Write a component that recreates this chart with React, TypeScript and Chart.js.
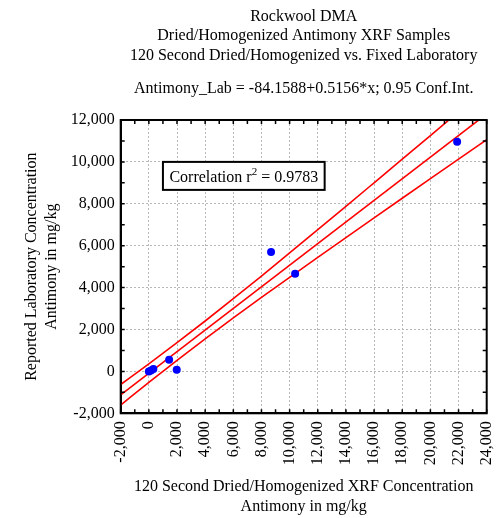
import React, { useEffect, useRef } from "react";
import { Chart, registerables } from "chart.js";

Chart.register(...registerables);

// ---------- text ----------
const titleLines = [
  "Rockwool DMA",
  "Dried/Homogenized Antimony XRF Samples",
  "120 Second Dried/Homogenized vs. Fixed Laboratory",
];
const equationText = "Antimony_Lab = -84.1588+0.5156*x; 0.95 Conf.Int.";
const xAxisTitle = ["120 Second Dried/Homogenized XRF Concentration", "Antimony in mg/kg"];
const yAxisTitle = ["Reported Laboratory Concentration", "Antimony in mg/kg"];
const correlationMain = "Correlation r";
const correlationSup = "2";
const correlationTail = " = 0.9783";

// ---------- axes ----------
const xMin = -2000;
const xMax = 24000;
const xStep = 2000;
const yMin = -2000;
const yMax = 12000;
const yStep = 2000;
const minorStep = 1000;

// ---------- data ----------
const sampleX = [0, 150, 320, 1440, 1980, 8680, 10390, 21900];
const sampleY = [0, 40, 110, 560, 80, 5700, 4660, 10960];

const fitX = [-2000, 24000];
const fitY = [-1115.3, 12290.2];

const bandX = [-2000, 0, 2000, 4000, 6000, 8000, 10000, 12000, 14000, 16000, 18000, 20000, 22000, 24000];
const upperBand = [-625, 361, 1370, 2406, 3469, 4553, 5652, 6762, 7879, 9003, 10129, 11257, 12388, 13520];
const lowerBand = [-1605, -529, 524, 1550, 2551, 3529, 4492, 5444, 6389, 7329, 8265, 9199, 10130, 11060];

// correlation box anchor (data coords of its top-left corner)
const boxAnchorX = 1000;
const boxAnchorY = 10000;

const FONT = "'Liberation Serif', 'Times New Roman', serif";

const pairs = (xs: number[], ys: number[]) => xs.map((x, i) => ({ x, y: ys[i] }));
const fmt = (v: number) => {
  const s = Math.abs(Math.round(v)).toString().replace(/\B(?=(\d{3})+(?!\d))/g, ",");
  return (v < 0 ? "-" : "") + s;
};

const decorations = {
  id: "decorations",
  afterDatasetsDraw(chart: any) {
    const { ctx, chartArea: a, scales } = chart;
    const xs = scales.x;
    const ys = scales.y;
    ctx.save();
    // frame
    ctx.strokeStyle = "#000";
    ctx.lineWidth = 2;
    ctx.strokeRect(a.left, a.top, a.right - a.left, a.bottom - a.top);
    // inward ticks
    ctx.lineWidth = 1.5;
    ctx.beginPath();
    for (let v = xMin; v <= xMax; v += minorStep) {
      const p = xs.getPixelForValue(v);
      ctx.moveTo(p, a.bottom);
      ctx.lineTo(p, a.bottom - 4);
      ctx.moveTo(p, a.top);
      ctx.lineTo(p, a.top + 4);
    }
    for (let v = yMin; v <= yMax; v += minorStep) {
      const p = ys.getPixelForValue(v);
      ctx.moveTo(a.left, p);
      ctx.lineTo(a.left + 4, p);
      ctx.moveTo(a.right, p);
      ctx.lineTo(a.right - 4, p);
    }
    ctx.stroke();

    // correlation box
    const bx = xs.getPixelForValue(boxAnchorX);
    const by = ys.getPixelForValue(boxAnchorY);
    ctx.font = `16px ${FONT}`;
    const w1 = ctx.measureText(correlationMain).width;
    const w3 = ctx.measureText(correlationTail).width;
    ctx.font = `11px ${FONT}`;
    const w2 = ctx.measureText(correlationSup).width;
    const padX = 6.5;
    const boxW = w1 + w2 + w3 + padX * 2;
    const boxH = 28;
    ctx.fillStyle = "#fff";
    ctx.fillRect(bx, by, boxW, boxH);
    ctx.strokeStyle = "#000";
    ctx.lineWidth = 2;
    ctx.strokeRect(bx, by, boxW, boxH);
    ctx.fillStyle = "#000";
    ctx.textBaseline = "alphabetic";
    ctx.textAlign = "left";
    const base = by + 20;
    ctx.font = `16px ${FONT}`;
    ctx.fillText(correlationMain, bx + padX, base);
    ctx.font = `11px ${FONT}`;
    ctx.fillText(correlationSup, bx + padX + w1, base - 7);
    ctx.font = `16px ${FONT}`;
    ctx.fillText(correlationTail, bx + padX + w1 + w2, base);
    ctx.restore();
  },
  afterDraw(chart: any) {
    const { ctx, chartArea: a } = chart;
    const cx = (a.left + a.right) / 2;
    const cy = (a.top + a.bottom) / 2;
    ctx.save();
    ctx.fillStyle = "#000";
    ctx.font = `16px ${FONT}`;
    ctx.textAlign = "center";
    ctx.textBaseline = "alphabetic";
    const titleBases = [20.5, 40, 59.5];
    titleLines.forEach((t, i) => ctx.fillText(t, cx, titleBases[i]));
    ctx.fillText(equationText, cx, 92.5);
    ctx.fillText(xAxisTitle[0], cx, 491);
    ctx.fillText(xAxisTitle[1], cx, 511);
    ctx.translate(0, cy);
    ctx.rotate(-Math.PI / 2);
    ctx.fillText(yAxisTitle[0], 0, 36);
    ctx.fillText(yAxisTitle[1], 0, 56);
    ctx.restore();
  },
};

export default function App() {
  const ref = useRef<HTMLCanvasElement | null>(null);
  useEffect(() => {
    if (!ref.current) return;
    Chart.defaults.font.family = FONT;
    Chart.defaults.font.size = 16;
    Chart.defaults.color = "#000";
    const redLine = {
      type: "line" as const,
      showLine: true,
      pointRadius: 0,
      borderColor: "#ff0000",
      borderWidth: 1.6,
      fill: false,
      order: 1,
    };
    const chart = new Chart(ref.current, {
      type: "scatter",
      data: {
        datasets: [
          {
            type: "scatter",
            data: pairs(sampleX, sampleY),
            pointRadius: 4,
            pointHoverRadius: 4,
            backgroundColor: "#0000ff",
            borderWidth: 0,
            order: 0,
          } as any,
          { ...redLine, data: pairs(fitX, fitY) } as any,
          { ...redLine, data: pairs(bandX, upperBand), cubicInterpolationMode: "monotone" } as any,
          { ...redLine, data: pairs(bandX, lowerBand), cubicInterpolationMode: "monotone" } as any,
        ],
      },
      options: {
        animation: false,
        responsive: false,
        events: [],
        layout: { padding: { top: 120, right: 15.3, left: 0, bottom: 0 } },
        plugins: { legend: { display: false }, tooltip: { enabled: false }, title: { display: false } },
        scales: {
          x: {
            type: "linear",
            min: xMin,
            max: xMax,
            afterFit: (s: any) => {
              s.height = 518 - 413.3;
              s.paddingLeft = 0;
              s.paddingRight = 0;
            },
            ticks: {
              stepSize: xStep,
              minRotation: 90,
              maxRotation: 90,
              autoSkip: false,
              padding: 8,
              font: { size: 16, family: FONT },
              color: "#000",
              callback: (v: any) => fmt(Number(v)),
            },
            grid: { color: "#b8b8b8", lineWidth: 1, drawTicks: false },
            border: { display: true, color: "#000", width: 2, dash: [2, 2] },
          },
          y: {
            type: "linear",
            min: yMin,
            max: yMax,
            afterFit: (s: any) => {
              s.width = 120.7;
              s.paddingTop = 0;
              s.paddingBottom = 0;
            },
            ticks: {
              stepSize: yStep,
              padding: 6,
              font: { size: 16, family: FONT },
              color: "#000",
              callback: (v: any) => fmt(Number(v)),
            },
            grid: { color: "#b8b8b8", lineWidth: 1, drawTicks: false },
            border: { display: true, color: "#000", width: 2, dash: [2, 2] },
          },
        },
      } as any,
      plugins: [decorations],
    });
    return () => chart.destroy();
  }, []);
  return (
    <div style={{ position: "absolute", left: 0, top: 0, width: 502, height: 518, background: "#fff" }}>
      <canvas ref={ref} width={502} height={518} style={{ display: "block" }} />
    </div>
  );
}
